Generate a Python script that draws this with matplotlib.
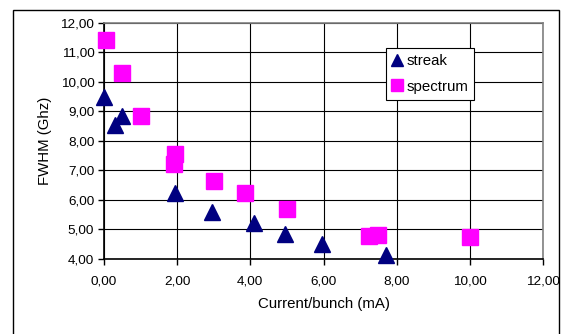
import matplotlib
matplotlib.use("Agg")
import matplotlib.pyplot as plt
from matplotlib.patches import Rectangle
from matplotlib.ticker import FuncFormatter, MultipleLocator

plt.rcParams["font.family"] = ["Liberation Sans", "DejaVu Sans"]

# streak camera measurements
streak_current = [0.0, 0.3, 0.5, 1.95, 2.95, 4.1, 4.95, 5.95, 7.7]
streak_fwhm = [9.5, 8.55, 8.85, 6.25, 5.6, 5.22, 4.86, 4.5, 4.15]

# spectrum measurements
spectrum_current = [0.05, 0.5, 1.0, 1.95, 1.9, 3.0, 3.85, 5.0, 7.25, 7.5, 10.0]
spectrum_fwhm = [11.42, 10.3, 8.85, 7.55, 7.22, 6.65, 6.22, 5.68, 4.77, 4.82, 4.75]


def comma_fmt(v, pos):
    return f"{v:.2f}".replace(".", ",")


fig = plt.figure(figsize=(5.61, 3.34), dpi=100)
ax = fig.add_axes([0.1854, 0.2246, 0.7826, 0.7075])

# outer chart frame
fig.patches.append(Rectangle((0.023, -0.05), 0.973, 1.02, transform=fig.transFigure,
                             fill=False, edgecolor="black", linewidth=1.0))

ax.plot(streak_current, streak_fwhm, linestyle="none", marker="^", markersize=11,
        color="#000080", label="streak", zorder=3, clip_on=False)
ax.plot(spectrum_current, spectrum_fwhm, linestyle="none", marker="s", markersize=11,
        color="#FF00FF", label="spectrum", zorder=3, clip_on=False)

ax.set_xlim(0, 12)
ax.set_ylim(4, 12)
ax.xaxis.set_major_locator(MultipleLocator(2))
ax.yaxis.set_major_locator(MultipleLocator(1))
ax.xaxis.set_major_formatter(FuncFormatter(comma_fmt))
ax.yaxis.set_major_formatter(FuncFormatter(comma_fmt))
ax.tick_params(direction="out", length=4, width=1, labelsize=9.7, colors="black")
ax.tick_params(axis="x", pad=8)
ax.tick_params(axis="y", pad=3)
ax.grid(True, color="black", linewidth=0.8)
ax.set_axisbelow(True)

ax.spines["left"].set_color("black")
ax.spines["bottom"].set_color("black")
ax.spines["top"].set_color("#808080")
ax.spines["right"].set_color("#808080")
for s in ax.spines.values():
    s.set_linewidth(1.2)

ax.set_xlabel("Current/bunch (mA)", fontsize=10.8, labelpad=7)
ax.set_ylabel("FWHM (Ghz)", fontsize=10.8, labelpad=6)

leg = ax.legend(loc="upper left", bbox_to_anchor=(0.688, 0.855), bbox_transform=fig.transFigure,
                fancybox=False, framealpha=1, edgecolor="black", fontsize=10.8,
                markerscale=0.85, handlelength=0.7, handletextpad=0.25,
                labelspacing=0.75, borderpad=0.4, borderaxespad=0)
leg.get_frame().set_linewidth(0.8)

fig.savefig("out.png", dpi=100)
